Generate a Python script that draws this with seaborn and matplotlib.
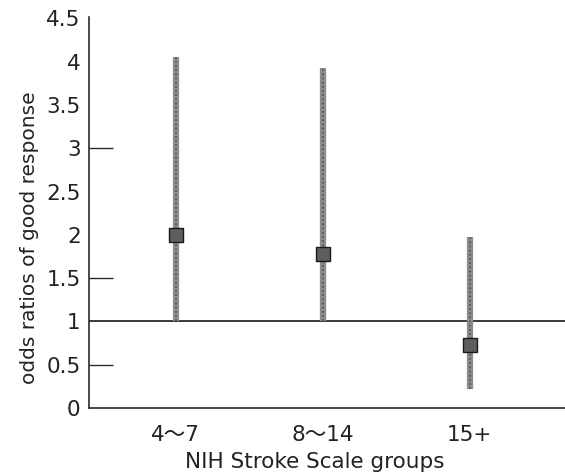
import matplotlib
matplotlib.use("Agg")
import matplotlib.pyplot as plt
import seaborn as sns
import pandas as pd

groups = ["4〜7", "8〜14", "15+"]
odds = [2.0, 1.78, 0.73]
lower = [1.0, 1.0, 0.22]
upper = [4.05, 3.93, 1.97]
yticks = [0, 0.5, 1, 1.5, 2, 2.5, 3, 3.5, 4, 4.5]
ytick_labels = ["0", "0.5", "1", "1.5", "2", "2.5", "3", "3.5", "4", "4.5"]
visible_tick_marks = [0.5, 1.5, 3]

df = pd.DataFrame({"group": groups, "odds": odds, "lower": lower, "upper": upper})

sns.set_theme(style="white")
plt.rcParams["font.family"] = ["DejaVu Sans", "Noto Sans CJK JP"]

fig = plt.figure(figsize=(5.65, 4.76), dpi=100)
ax = fig.add_axes([0.1575, 0.143, 0.8425, 0.822])

ax.axhline(1, color="#2a2a2a", lw=1.3, zorder=1)
ax.vlines(df["group"], df["lower"], df["upper"], color="#8c8c8c", lw=4.5, zorder=2)
ax.vlines(df["group"], df["lower"], df["upper"], color="#505050", lw=1.2,
          linestyles=(0, (1, 1.5)), zorder=2)
sns.scatterplot(data=df, x="group", y="odds", marker="s", s=100, color="#5e5e5e",
                edgecolor="#1a1a1a", linewidth=1.0, zorder=3, ax=ax)

ax.set_xlim(-0.59, 2.65)
ax.set_ylim(0, 4.52)
ax.set_yticks(yticks)
ax.set_yticklabels(ytick_labels)
for s in ["top", "right"]:
    ax.spines[s].set_visible(False)
for s in ["left", "bottom"]:
    ax.spines[s].set_color("#2a2a2a")
    ax.spines[s].set_linewidth(1.2)

ax.tick_params(axis="y", direction="in", length=17, width=1.0, color="#2a2a2a",
               labelsize=15.5, labelcolor="#222222", pad=6, left=True)
ax.tick_params(axis="x", length=0, labelsize=15.5, labelcolor="#222222", pad=12)

ax.set_xlabel("NIH Stroke Scale groups", fontsize=15.5, color="#222222")
ax.set_ylabel("odds ratios of good response", fontsize=14.5, color="#222222")
ax.xaxis.label.set_va("center")
ax.yaxis.label.set_va("center")
ax.xaxis.set_label_coords(0.475, -0.138)
ax.yaxis.set_label_coords(-0.124, 0.436)

fig.canvas.draw()
for t, v in zip(ax.yaxis.get_major_ticks(), ax.get_yticks()):
    if not any(abs(v - m) < 1e-9 for m in visible_tick_marks):
        t.tick1line.set_visible(False)
        t.tick1line.set_markersize(0)

fig.savefig("out.png", dpi=100, facecolor="white")
